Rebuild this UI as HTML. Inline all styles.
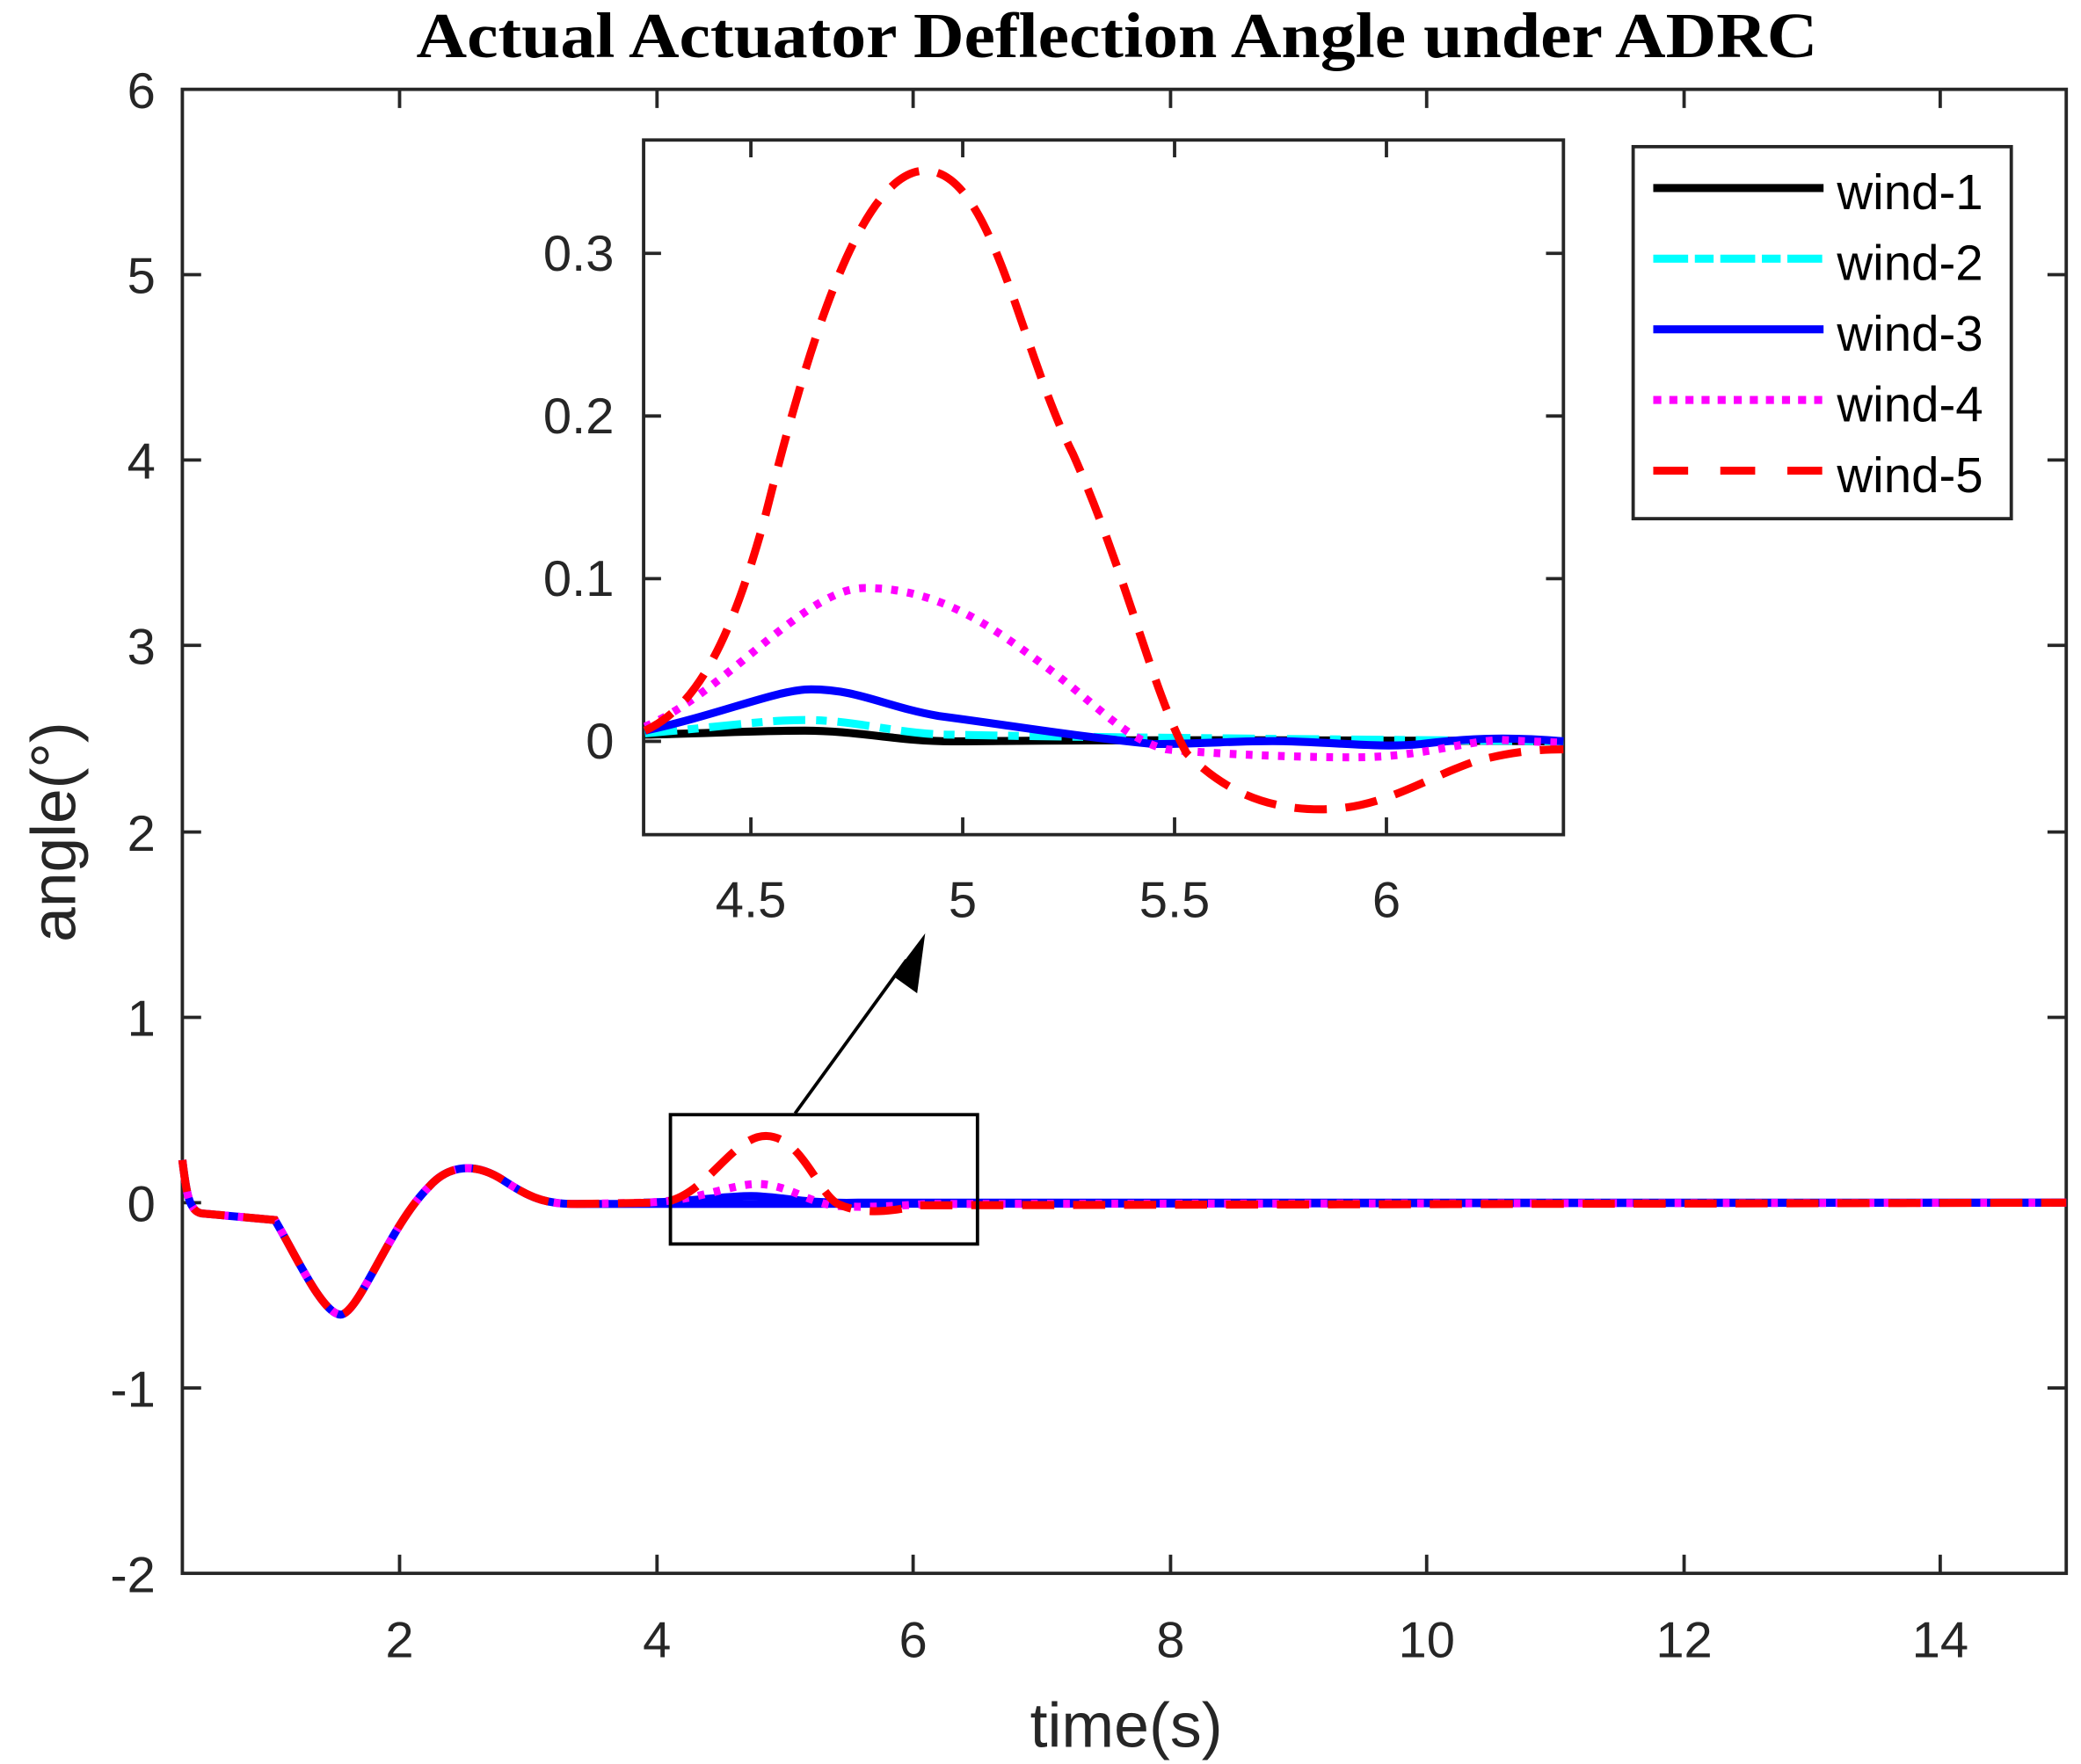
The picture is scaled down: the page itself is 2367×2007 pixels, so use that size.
<!DOCTYPE html>
<html><head><meta charset="utf-8"><style>html,body{margin:0;padding:0;background:#fff}svg{display:block}</style></head>
<body>
<svg width="2367" height="2007" viewBox="0 0 1552 1323" preserveAspectRatio="none" xmlns="http://www.w3.org/2000/svg" font-family="Liberation Sans, Arial, sans-serif">
<rect width="1552" height="1323" fill="#fff"/>
<text x="833" y="43" text-anchor="middle" font-family="Liberation Serif, serif" font-weight="bold" font-size="48" textLength="1045" lengthAdjust="spacingAndGlyphs">Actual Actuator Deflection Angle  under ADRC</text>
<rect x="136" y="67" width="1405" height="1113" fill="none" stroke="#262626" stroke-width="2.5"/>
<g stroke="#262626" stroke-width="2.5">
<line x1="136" y1="206" x2="150" y2="206"/><line x1="136" y1="345" x2="150" y2="345"/><line x1="136" y1="484" x2="150" y2="484"/><line x1="136" y1="624" x2="150" y2="624"/><line x1="136" y1="763" x2="150" y2="763"/><line x1="136" y1="902" x2="150" y2="902"/><line x1="136" y1="1041" x2="150" y2="1041"/>
<line x1="1541" y1="206" x2="1527" y2="206"/><line x1="1541" y1="345" x2="1527" y2="345"/><line x1="1541" y1="484" x2="1527" y2="484"/><line x1="1541" y1="624" x2="1527" y2="624"/><line x1="1541" y1="763" x2="1527" y2="763"/><line x1="1541" y1="902" x2="1527" y2="902"/><line x1="1541" y1="1041" x2="1527" y2="1041"/>
<line x1="298" y1="1180" x2="298" y2="1166"/><line x1="490" y1="1180" x2="490" y2="1166"/><line x1="681" y1="1180" x2="681" y2="1166"/><line x1="873" y1="1180" x2="873" y2="1166"/><line x1="1064" y1="1180" x2="1064" y2="1166"/><line x1="1256" y1="1180" x2="1256" y2="1166"/><line x1="1447" y1="1180" x2="1447" y2="1166"/>
<line x1="298" y1="67" x2="298" y2="81"/><line x1="490" y1="67" x2="490" y2="81"/><line x1="681" y1="67" x2="681" y2="81"/><line x1="873" y1="67" x2="873" y2="81"/><line x1="1064" y1="67" x2="1064" y2="81"/><line x1="1256" y1="67" x2="1256" y2="81"/><line x1="1447" y1="67" x2="1447" y2="81"/>
</g>
<g font-size="38" fill="#262626" text-anchor="end">
<text x="116" y="81">6</text><text x="116" y="220">5</text><text x="116" y="359">4</text><text x="116" y="498">3</text><text x="116" y="638">2</text><text x="116" y="777">1</text><text x="116" y="916">0</text><text x="116" y="1055">-1</text><text x="116" y="1194">-2</text>
</g>
<g font-size="38" fill="#262626" text-anchor="middle">
<text x="298" y="1243">2</text><text x="490" y="1243">4</text><text x="681" y="1243">6</text><text x="873" y="1243">8</text><text x="1064" y="1243">10</text><text x="1256" y="1243">12</text><text x="1447" y="1243">14</text>
</g>
<text x="840" y="1310" text-anchor="middle" font-size="47" fill="#262626">time(s)</text>
<text transform="translate(56,624) rotate(-90)" text-anchor="middle" font-size="47" fill="#262626">angle(°)</text>
<g fill="none" stroke-width="6">
<path d="M136,870 C139,895 141,908 150,910 L205,915 C220,940 240,985 254,986 C268,985 290,920 320,890 C335,873 355,872 375,885 C395,898 405,903 430,903 L1541,902" stroke="#0000ff"/>
<path d="M480,902 C520,901 540,897 560,897 C580,897 600,903 640,902 L1541,902" stroke="#0000ff"/>
<path d="M136,870 C139,895 141,908 150,910 L205,915 C220,940 240,985 254,986 C268,985 290,920 320,890 C335,873 355,872 375,885 C395,898 405,903 430,903 L480,902 C520,901 545,888 565,888 C585,888 600,900 620,904 C640,906 660,905 690,903 L1541,902" stroke="#ff00ff" stroke-dasharray="5,7"/>
<path d="M136,870 C139,895 141,908 150,910 L205,915 C220,940 240,985 254,986 C268,985 290,920 320,890 C335,873 355,872 375,885 C395,898 405,903 430,903 L490,902 C525,902 545,851 572,852 C598,853 610,895 625,903 C640,910 660,910 685,904 L1541,902" stroke="#ff0000" stroke-dasharray="24,14"/>
</g>
<rect x="500" y="836" width="229" height="97" fill="none" stroke="#000" stroke-width="2.5"/>
<line x1="593" y1="835" x2="676" y2="720" stroke="#000" stroke-width="2.5"/>
<polygon points="690,700 684,745 666,732" fill="#000"/>
<rect x="480" y="105" width="686" height="521" fill="#fff" stroke="#262626" stroke-width="2.5"/>
<g stroke="#262626" stroke-width="2.5">
<line x1="480" y1="190" x2="493" y2="190"/><line x1="480" y1="312" x2="493" y2="312"/><line x1="480" y1="434" x2="493" y2="434"/><line x1="480" y1="556" x2="493" y2="556"/>
<line x1="1166" y1="190" x2="1153" y2="190"/><line x1="1166" y1="312" x2="1153" y2="312"/><line x1="1166" y1="434" x2="1153" y2="434"/><line x1="1166" y1="556" x2="1153" y2="556"/>
<line x1="560" y1="626" x2="560" y2="613"/><line x1="718" y1="626" x2="718" y2="613"/><line x1="876" y1="626" x2="876" y2="613"/><line x1="1034" y1="626" x2="1034" y2="613"/>
<line x1="560" y1="105" x2="560" y2="118"/><line x1="718" y1="105" x2="718" y2="118"/><line x1="876" y1="105" x2="876" y2="118"/><line x1="1034" y1="105" x2="1034" y2="118"/>
</g>
<g font-size="38" fill="#262626" text-anchor="end">
<text x="458" y="203">0.3</text><text x="458" y="325">0.2</text><text x="458" y="447">0.1</text><text x="458" y="569">0</text>
</g>
<g font-size="38" fill="#262626" text-anchor="middle">
<text x="560" y="688">4.5</text><text x="718" y="688">5</text><text x="876" y="688">5.5</text><text x="1034" y="688">6</text>
</g>
<g fill="none" stroke-width="6">
<path d="M481,551 C530,550 560,548 600,548 C640,548 670,556 710,556 C760,556 800,554 1166,556" stroke="#000"/>
<path d="M481,550 C530,546 570,540 600,540 C640,540 670,551 710,551 C760,552 800,553 1166,556" stroke="#00ffff" stroke-dasharray="24,8,8,8"/>
<path d="M481,548 C540,535 580,517 605,517 C640,517 660,530 700,537 C760,545 800,552 860,558 C900,558 930,555 960,556 C1000,557 1030,561 1060,558 C1100,553 1130,553 1166,556" stroke="#0000ff"/>
<path d="M481,545 C540,520 600,441 645,441 C700,441 740,470 780,500 C820,530 840,555 870,562 C900,565 960,568 1010,568 C1060,568 1090,556 1120,555 C1140,556 1160,557 1166,557" stroke="#ff00ff" stroke-dasharray="5,7"/>
<path d="M481,548 C520,530 545,480 570,390 C600,270 640,128 690,128 C740,128 760,260 800,340 C840,430 860,520 885,565 C910,590 940,607 985,607 C1030,607 1060,585 1100,571 C1130,563 1150,562 1166,562" stroke="#ff0000" stroke-dasharray="24,14"/>
</g>
<rect x="1218" y="110" width="282" height="279" fill="#fff" stroke="#262626" stroke-width="2.5"/>
<g stroke-width="6">
<line x1="1233" y1="141" x2="1360" y2="141" stroke="#000"/>
<line x1="1233" y1="194" x2="1360" y2="194" stroke="#00ffff" stroke-dasharray="26,5,14,5"/>
<line x1="1233" y1="247" x2="1360" y2="247" stroke="#0000ff"/>
<line x1="1233" y1="300" x2="1360" y2="300" stroke="#ff00ff" stroke-dasharray="6,6"/>
<line x1="1233" y1="353" x2="1360" y2="353" stroke="#ff0000" stroke-dasharray="26,24"/>
</g>
<g font-size="37" fill="#000">
<text x="1370" y="157">wind-1</text><text x="1370" y="210">wind-2</text><text x="1370" y="263">wind-3</text><text x="1370" y="316">wind-4</text><text x="1370" y="369">wind-5</text>
</g>
</svg>
</body></html>
